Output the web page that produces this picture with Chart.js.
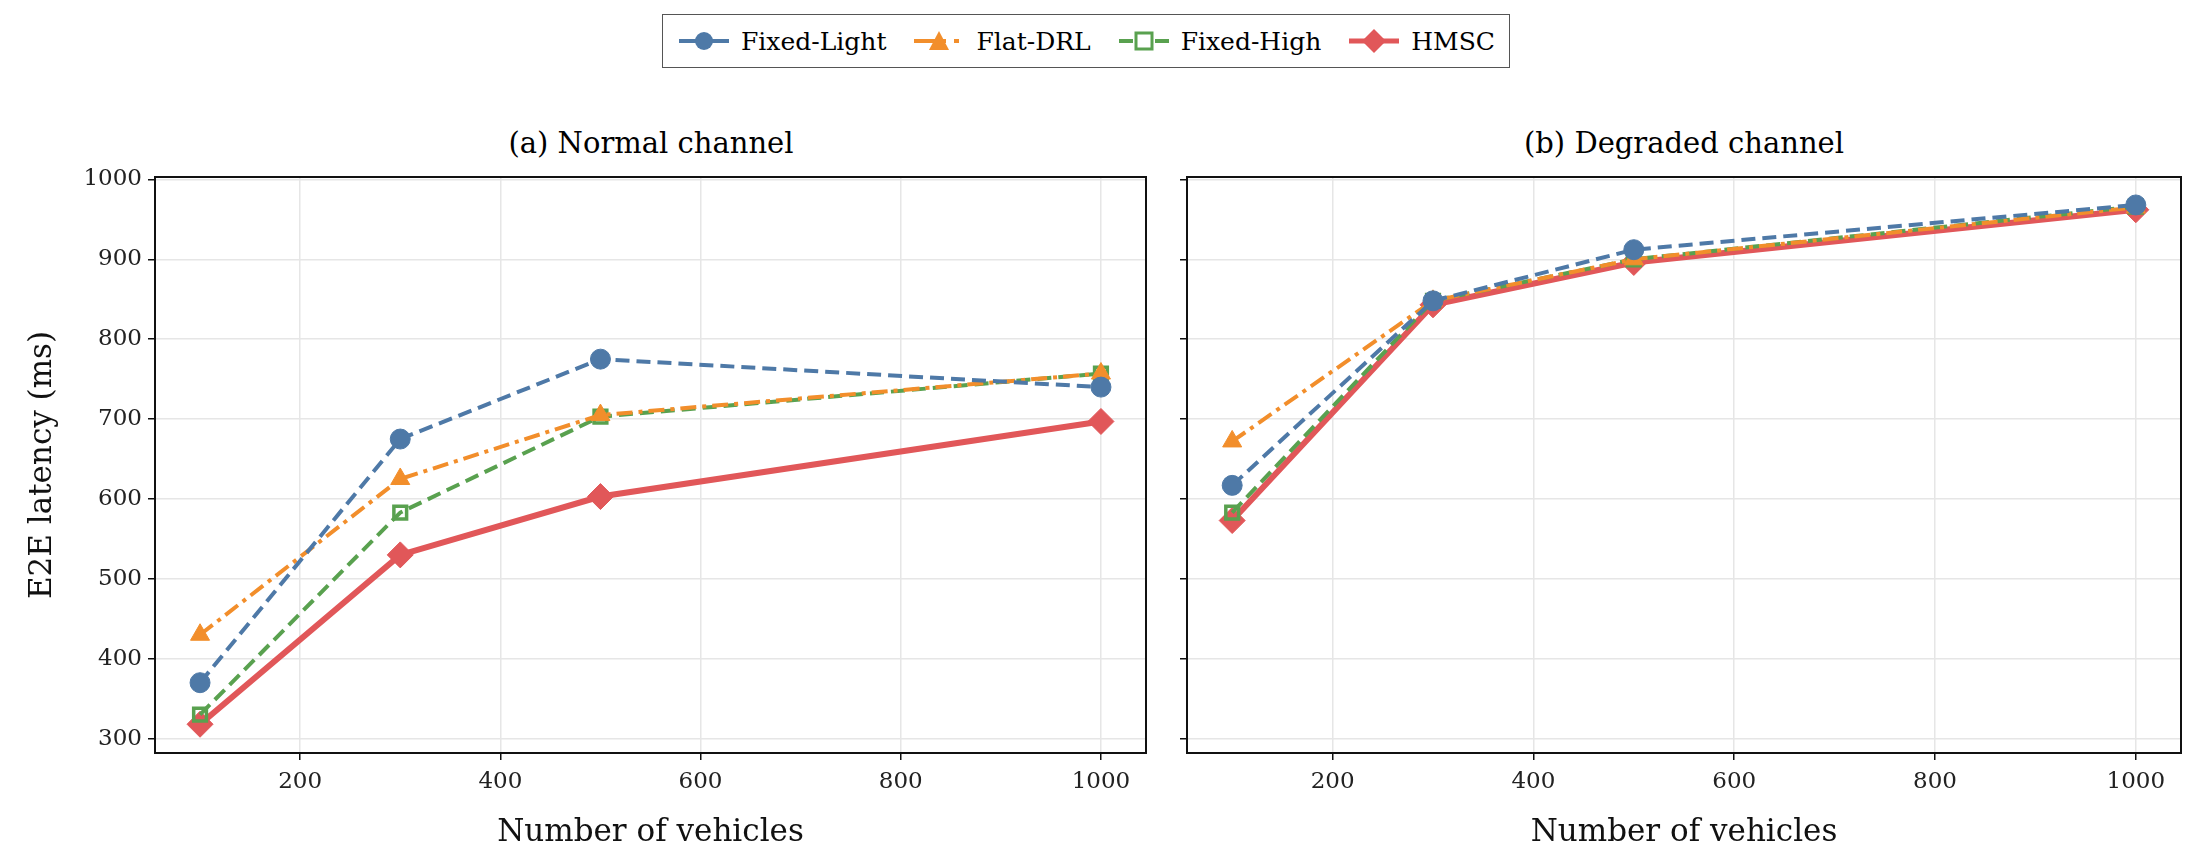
<!DOCTYPE html>
<html><head><meta charset="utf-8">
<script src="https://cdn.jsdelivr.net/npm/chart.js@4.4.1/dist/chart.umd.min.js"></script>
<style>
body{margin:0;background:#fff;width:2201px;height:856px;position:relative;overflow:hidden;font-family:"DejaVu Serif",serif}
.wrap{position:absolute;top:0;height:856px}
#legend{position:absolute;top:14px;left:662px;height:52px;border:1.5px solid #555;display:flex;align-items:center;padding:0 14px;font-size:25px;gap:26px;background:#fff}
#legend span{display:flex;align-items:center;gap:10px}
.title{position:absolute;top:126px;font-size:29px;text-align:center}
</style></head><body>
<div id="legend"></div>
<div class="title" style="left:155px;width:992px">(a) Normal channel</div>
<div class="title" style="left:1187px;width:994px">(b) Degraded channel</div>
<div class="wrap" style="left:0;width:1160px"><canvas id="c1" width="1160" height="856"></canvas></div>
<div class="wrap" style="left:1165px;width:1030px"><canvas id="c2" width="1030" height="856"></canvas></div>
<script>
const vehicles = [100, 300, 500, 1000];
const seriesNames = ['Fixed-Light', 'Flat-DRL', 'Fixed-High', 'HMSC'];
const normalLight = [370, 675, 775, 740];
const normalFlat = [430, 625, 705, 757];
const normalHigh = [330, 583, 703, 757];
const normalHmsc = [318, 530, 603, 697];
const degradedLight = [617, 848, 912, 968];
const degradedFlat = [672, 848, 900, 965];
const degradedHigh = [583, 848, 900, 966];
const degradedHmsc = [573, 843, 896, 962];
const yTicks = [300, 400, 500, 600, 700, 800, 900, 1000];
const xTicks = [200, 400, 600, 800, 1000];

const styles = [
  { color: '#4e79a7', dash: [14, 7], point: 'circle', r: 10, w: 4, fill: true },
  { color: '#f28e2b', dash: [16, 6, 4, 6], point: 'triangle', r: 11, w: 4, fill: true },
  { color: '#59a14f', dash: [14, 7], point: 'rect', r: 9, w: 4, fill: false },
  { color: '#e15759', dash: [], point: 'rectRot', r: 13, w: 6, fill: true }
];

function datasets(arrs) {
  return arrs.map((a, i) => ({
    label: seriesNames[i],
    data: a.map((v, j) => ({ x: vehicles[j], y: v })),
    borderColor: styles[i].color,
    backgroundColor: styles[i].fill ? styles[i].color : 'rgba(255,255,255,0)',
    borderDash: styles[i].dash,
    borderWidth: styles[i].w,
    pointStyle: styles[i].point,
    pointRadius: styles[i].r,
    pointBorderWidth: styles[i].fill ? 1 : 3.5,
    pointBorderColor: styles[i].color,
    pointBackgroundColor: styles[i].fill ? styles[i].color : 'rgba(255,255,255,0)',
    tension: 0
  }));
}

const frame = {
  id: 'frame',
  afterDraw(c) {
    const a = c.chartArea, ctx = c.ctx;
    ctx.save(); ctx.strokeStyle = '#111'; ctx.lineWidth = 2;
    ctx.strokeRect(a.left, a.top, a.right - a.left, a.bottom - a.top);
    ctx.restore();
  }
};

function makeChart(id, arrs, showY, yWidth, leftPad, rightPad) {
  new Chart(document.getElementById(id), {
    type: 'line',
    data: { datasets: datasets(arrs) },
    plugins: [frame],
    options: {
      responsive: false, animation: false,
      layout: { padding: { top: 177, right: rightPad, bottom: 0, left: leftPad } },
      plugins: { legend: { display: false }, tooltip: { enabled: false } },
      scales: {
        x: {
          type: 'linear', min: 55, max: 1045,
          afterBuildTicks: s => { s.ticks = xTicks.map(v => ({ value: v })); },
          grid: { color: '#e6e6e6', lineWidth: 1.5, tickColor: '#111', tickLength: 7 },
          border: { color: '#111', width: 2 },
          ticks: { color: '#222', font: { family: 'DejaVu Serif', size: 23 }, padding: 8, callback: v => String(v) },
          title: { display: true, text: 'Number of vehicles', color: '#111', font: { family: 'DejaVu Serif', size: 31 }, padding: { top: 0 } },
          afterFit: s => { s.height = 103; }
        },
        y: {
          min: 282, max: 1003,
          afterBuildTicks: s => { s.ticks = yTicks.map(v => ({ value: v })); },
          grid: { color: '#e6e6e6', lineWidth: 1.5, tickColor: '#111', tickLength: 7 },
          border: { color: '#111', width: 2 },
          ticks: { display: showY, color: '#222', font: { family: 'DejaVu Serif', size: 23 }, padding: 6, callback: v => String(v) },
          title: { display: showY, text: 'E2E latency (ms)', color: '#111', font: { family: 'DejaVu Serif', size: 31 }, padding: { bottom: 8 } },
          afterFit: s => { s.width = yWidth; }
        }
      }
    }
  });
}

makeChart('c1', [normalLight, normalFlat, normalHigh, normalHmsc], true, 135, 20, 13);
makeChart('c2', [degradedLight, degradedFlat, degradedHigh, degradedHmsc], false, 22, 0, 14);

// legend
const lg = document.getElementById('legend');
const icons = [
  '<line x1="2" y1="12" x2="52" y2="12" stroke="#4e79a7" stroke-width="4"/><circle cx="27" cy="12" r="9" fill="#4e79a7"/>',
  '<line x1="2" y1="12" x2="34" y2="12" stroke="#f28e2b" stroke-width="4"/><line x1="42" y1="12" x2="47" y2="12" stroke="#f28e2b" stroke-width="4"/><polygon points="27,2 37,21 17,21" fill="#f28e2b"/>',
  '<line x1="2" y1="12" x2="16" y2="12" stroke="#59a14f" stroke-width="4"/><line x1="38" y1="12" x2="52" y2="12" stroke="#59a14f" stroke-width="4"/><rect x="19" y="4" width="16" height="16" fill="none" stroke="#59a14f" stroke-width="3"/>',
  '<line x1="2" y1="12" x2="52" y2="12" stroke="#e15759" stroke-width="5"/><polygon points="27,0 39,12 27,24 15,12" fill="#e15759"/>'
];
seriesNames.forEach((n, i) => {
  const s = document.createElement('span');
  s.innerHTML = '<svg width="54" height="24">' + icons[i] + '</svg>' + n;
  lg.appendChild(s);
});
</script>
</body></html>
